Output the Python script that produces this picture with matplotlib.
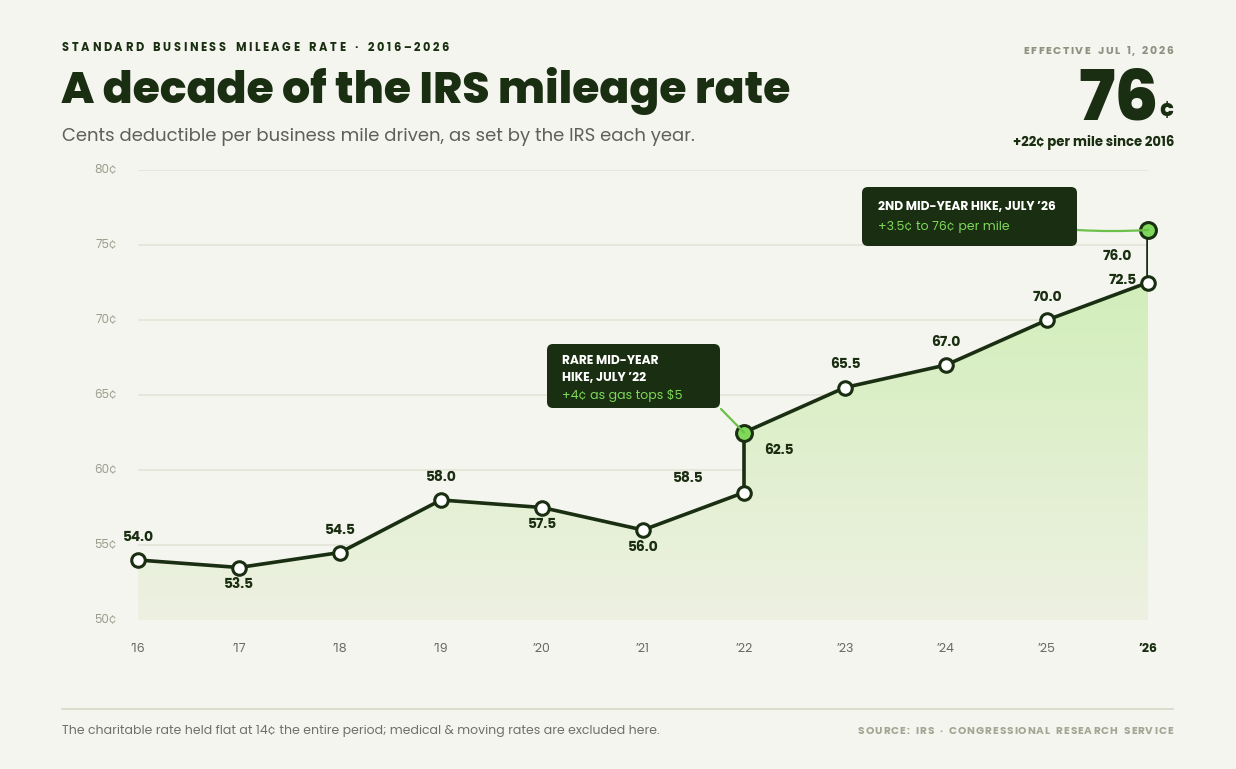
import matplotlib
matplotlib.use("Agg")
import matplotlib.pyplot as plt
import numpy as np
from matplotlib.patches import FancyBboxPatch, Polygon, ConnectionPatch
from matplotlib.colors import LinearSegmentedColormap
from matplotlib import font_manager

# ---------------- data ----------------
year_labels = ["’16", "’17", "’18", "’19", "’20", "’21", "’22", "’23", "’24", "’25", "’26"]
rates = [54.0, 53.5, 54.5, 58.0, 57.5, 56.0, 58.5, 65.5, 67.0, 70.0, 72.5]
hike_2022 = 62.5      # July 2022 mid-year rate
hike_2026 = 76.0      # July 2026 mid-year rate
y_ticks = [50, 55, 60, 65, 70, 75, 80]
y_tick_labels = ["50¢", "55¢", "60¢", "65¢", "70¢", "75¢", "80¢"]

# ---------------- style ----------------
W, H = 1236, 769
BG = "#f4f5ee"
DARK = "#1a2e12"
GRID = "#e4e6da"
GRAY = "#8e9080"
SUB = "#5f6157"
GREEN = "#7fd85a"
GREEN_LINE = "#6cc04a"

avail = {f.name for f in font_manager.fontManager.ttflist}
FONT = "Poppins" if "Poppins" in avail else ("Lato" if "Lato" in avail else "DejaVu Sans")
plt.rcParams["font.family"] = [FONT, "DejaVu Sans"]

fig = plt.figure(figsize=(W / 100, H / 100), dpi=100, facecolor=BG)

def fx(x):
    return x / W

def fy(y):
    return 1 - y / H

# main axes
L, R, T, B = 138, 1148, 170, 620
ax = fig.add_axes([fx(L), fy(B), fx(R) - fx(L), fy(T) - fy(B)])
ax.set_facecolor("none")
for s in ax.spines.values():
    s.set_visible(False)
ax.set_xticks([])
ax.set_yticks([])

for yv in y_ticks:
    ax.axhline(yv, color=GRID if yv != 50 else "#dcdfcf", lw=1.3 if yv != 50 else 1.8, zorder=0)

# path of the line (including the mid-year jump in 2022)
xs = list(range(len(rates)))
path_x = xs[:7] + [6] + xs[7:]
path_y = rates[:7] + [hike_2022] + rates[7:]

# gradient fill under the line
poly_pts = [(0, 50)] + list(zip(path_x, path_y)) + [(xs[-1], 50)]
poly = Polygon(poly_pts, closed=True, facecolor="none", edgecolor="none", transform=ax.transData)
ax.add_patch(poly)
cmap = LinearSegmentedColormap.from_list("g", ["#eef1e2", "#d2eeba"])
grad = np.linspace(0, 1, 256).reshape(-1, 1)
im = ax.imshow(grad, extent=[0, xs[-1], 50, max(rates)], origin="lower", aspect="auto",
               cmap=cmap, zorder=1, interpolation="bicubic")
im.set_clip_path(poly)
ax.set_xlim(0, len(rates) - 1)
ax.set_ylim(50, 80)

# line
ax.plot(path_x, path_y, color=DARK, lw=2.6, zorder=3, solid_joinstyle="round", solid_capstyle="round")
ax.plot([xs[-1], xs[-1]], [rates[-1], hike_2026], color=DARK, lw=2.6, zorder=3)

# markers
ax.scatter(xs, rates, s=95, facecolor="white", edgecolor=DARK, linewidth=2.2, zorder=5, clip_on=False)
ax.scatter([6, xs[-1]], [hike_2022, hike_2026], s=130, facecolor=GREEN, edgecolor=DARK,
           linewidth=2.2, zorder=5, clip_on=False)

# value labels (offsets in pixels)
label_offsets = [(0, 22), (0, -17), (0, 22), (0, 22), (0, -17), (0, -18), (-56, 13),
                 (0, 22), (0, 22), (0, 22), (-25, 1)]
for x, v, (dx, dy) in zip(xs, rates, label_offsets):
    ax.annotate(f"{v:.1f}", (x, v), xytext=(dx, dy), textcoords="offset pixels",
                ha="center", va="center", fontsize=10, fontweight="bold", color=DARK, zorder=6)
ax.annotate(f"{hike_2022:.1f}", (6, hike_2022), xytext=(35, -19), textcoords="offset pixels",
            ha="center", va="center", fontsize=10, fontweight="bold", color=DARK, zorder=6)
ax.annotate(f"{hike_2026:.1f}", (xs[-1], hike_2026), xytext=(-31, -27), textcoords="offset pixels",
            ha="center", va="center", fontsize=10, fontweight="bold", color=DARK, zorder=6)

# y tick labels and x tick labels
for yv, lab in zip(y_ticks, y_tick_labels):
    ax.annotate(lab, (0, yv), xytext=(-21, 0), textcoords="offset pixels", ha="right", va="center",
                fontsize=8.5, color="#9c9e8e", annotation_clip=False)
for x, lab in zip(xs, year_labels):
    last = x == xs[-1]
    ax.annotate(lab, (x, 50), xytext=(0, -29), textcoords="offset pixels", ha="center", va="center",
                fontsize=9, color=DARK if last else "#6a6c60", fontweight="bold" if last else "normal",
                annotation_clip=False)

# overlay axes in pixel coordinates
ov = fig.add_axes([0, 0, 1, 1], zorder=10)
ov.set_xlim(0, W)
ov.set_ylim(H, 0)
ov.axis("off")
ov.patch.set_alpha(0)

fig.canvas.draw()
renderer = fig.canvas.get_renderer()

def spaced_text(x, y, s, spacing, ha="left", **kw):
    widths = []
    for ch in s:
        t = ov.text(0, 0, ch if ch != " " else "n", **kw)
        bb = t.get_window_extent(renderer=renderer)
        w = bb.width if ch != " " else bb.width * 0.55
        widths.append(w)
        t.remove()
    total = sum(widths) + spacing * (len(s) - 1)
    cx = x if ha == "left" else x - total
    for ch, w in zip(s, widths):
        if ch != " ":
            ov.text(cx, y, ch, ha="left", va="center", **kw)
        cx += w + spacing

spaced_text(62, 48, "STANDARD BUSINESS MILEAGE RATE · 2016–2026", 2.6, fontsize=8.2,
            fontweight="bold", color=DARK)
ov.text(61, 91, "A decade of the IRS mileage rate", ha="left", va="center", fontsize=31.8,
        fontweight="heavy", color=DARK)
ov.text(62, 137, "Cents deductible per business mile driven, as set by the IRS each year.",
        ha="left", va="center", fontsize=13, color=SUB)

spaced_text(1173, 52, "EFFECTIVE JUL 1, 2026", 1.5, ha="right", fontsize=7.8, fontweight="bold",
            color=GRAY)
ov.text(1159, 119, "76", ha="right", va="baseline", fontsize=50, fontweight="heavy", color=DARK)
ov.text(1174, 110, "¢", ha="right", va="center", fontsize=17, fontweight="heavy", color=DARK)
ov.text(1174, 142, "+22¢ per mile since 2016", ha="right", va="center", fontsize=9.5,
        fontweight="bold", color=DARK)

# annotation boxes
b1 = FancyBboxPatch((547, 344), 173, 64, boxstyle="round,pad=0,rounding_size=6",
                    facecolor=DARK, edgecolor="none", zorder=11)
ov.add_patch(b1)
ov.text(562, 361, "RARE MID-YEAR", fontsize=8.8, fontweight="bold", color="white", va="center", zorder=12)
ov.text(562, 378, "HIKE, JULY ’22", fontsize=8.8, fontweight="bold", color="white", va="center", zorder=12)
ov.text(562, 396, "+4¢ as gas tops $5", fontsize=9, color=GREEN, va="center", zorder=12)
con1 = ConnectionPatch(xyA=(721, 409), coordsA=ov.transData, xyB=(6, hike_2022), coordsB=ax.transData,
                       color=GREEN_LINE, lw=1.6, zorder=4)
fig.add_artist(con1)

b2 = FancyBboxPatch((862, 187), 215, 59, boxstyle="round,pad=0,rounding_size=6",
                    facecolor=DARK, edgecolor="none", zorder=11)
ov.add_patch(b2)
ov.text(878, 207, "2ND MID-YEAR HIKE, JULY ’26", fontsize=8.8, fontweight="bold", color="white",
        va="center", zorder=12)
ov.text(878, 227, "+3.5¢ to 76¢ per mile", fontsize=9, color=GREEN, va="center", zorder=12)
con2 = ConnectionPatch(xyA=(1077, 230), coordsA=ov.transData, xyB=(xs[-1], hike_2026), coordsB=ax.transData,
                       color=GREEN_LINE, lw=1.6, connectionstyle="arc3,rad=0.03")
fig.add_artist(con2)

# footer
ov.plot([62, 1173], [709, 709], color="#d6d8c8", lw=1.2)
ov.text(62, 731, "The charitable rate held flat at 14¢ the entire period; medical & moving rates are excluded here.",
        ha="left", va="center", fontsize=9, color="#6f7165")
spaced_text(1173, 732, "SOURCE: IRS · CONGRESSIONAL RESEARCH SERVICE", 0.95, ha="right", fontsize=7.6,
            fontweight="bold", color="#a4a694")

fig.savefig("out.png", dpi=100, facecolor=BG)
